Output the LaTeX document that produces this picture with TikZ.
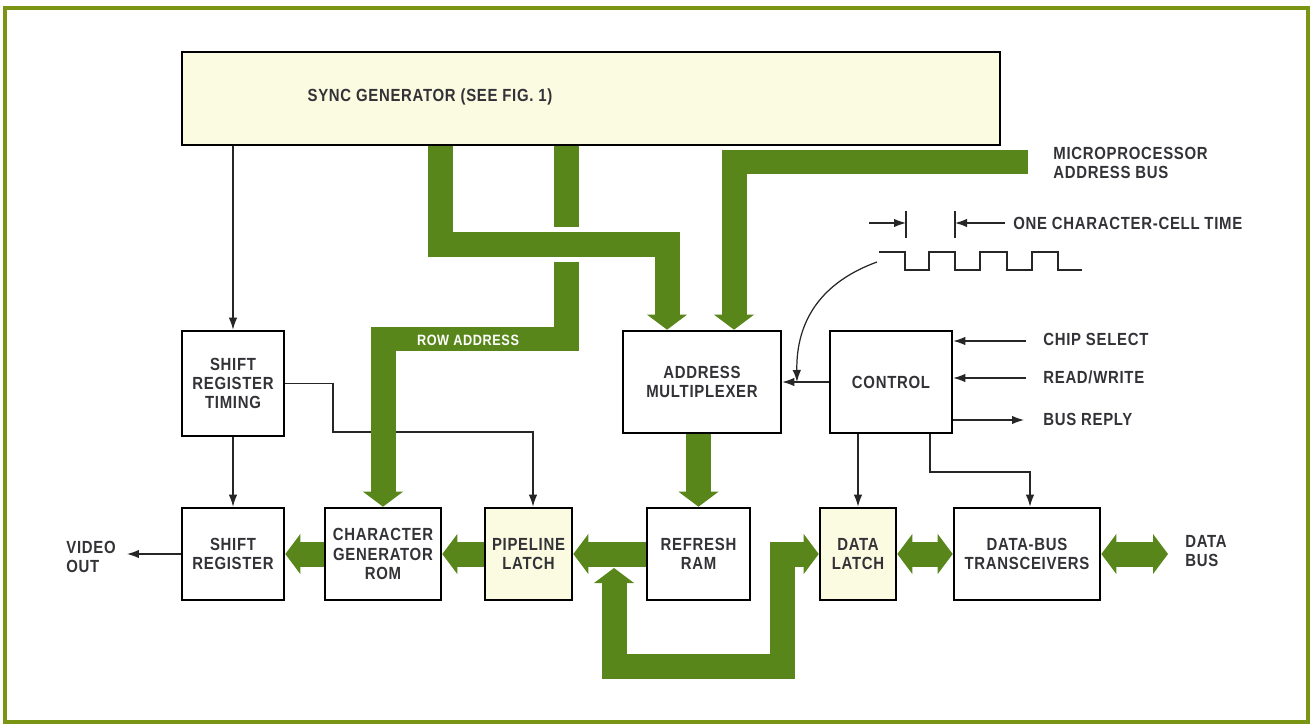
\documentclass[tikz,border=0pt]{standalone}
\usepackage{fontspec}
\setmainfont{Liberation Sans}[FakeStretch=0.85,LetterSpace=4]
\usetikzlibrary{arrows.meta}
\definecolor{busgreen}{RGB}{88,134,26}
\definecolor{framegreen}{RGB}{122,148,20}
\definecolor{cream}{RGB}{251,251,226}
\definecolor{ink}{RGB}{50,50,55}

\begin{document}
\begin{tikzpicture}[x=0.02cm,y=-0.02cm,font=\bfseries\fontsize{10}{11}\selectfont]
	 \tikzstyle{block}=[draw=black,line width=1.5pt,fill=white,text=ink,align=center,inner sep=0pt,minimum height=1.84cm]
	 \tikzstyle{latch}=[block,fill=cream]
	 \tikzstyle{wire}=[draw=black!85,line width=0.7pt,>={Latex[length=2.4mm,width=1.7mm]}]
	 \tikzstyle{bus}=[draw=busgreen,line width=0.5cm,>={Triangle[length=0.3cm,width=0.8cm,line width=0pt]}]
	 \tikzstyle{note}=[text=ink,align=left,anchor=west,inner sep=0pt]

	 \useasboundingbox (0,0) rectangle (1312,726);
	 \draw[framegreen,line width=0.08cm] (5,8) rectangle (1308,722);

	 \node[latch,minimum width=16.36cm,minimum height=1.86cm] (sync) at (591,98.5) {};
	 \node[text=ink] (synctext) at (430,97) {SYNC GENERATOR (SEE FIG. 1)};
	 \node[block,minimum width=2.04cm,minimum height=2.1cm] (srt) at (233,383.5) {SHIFT\\REGISTER\\TIMING};
	 \node[block,minimum width=2.04cm] (sr) at (233,554) {SHIFT\\REGISTER};
	 \node[block,minimum width=2.32cm] (cgr) at (383,554) {CHARACTER\\GENERATOR\\ROM};
	 \node[latch,minimum width=1.74cm] (pl) at (528.5,554) {PIPELINE\\LATCH};
	 \node[block,minimum width=2.06cm] (ram) at (698.5,554) {REFRESH\\RAM};
	 \node[latch,minimum width=1.52cm] (dl) at (858,554) {DATA\\LATCH};
	 \node[block,minimum width=2.92cm] (dbt) at (1027,554) {DATA-BUS\\TRANSCEIVERS};
	 \node[block,minimum width=3.16cm,minimum height=2.04cm] (mux) at (702,382) {ADDRESS\\MULTIPLEXER};
	 \node[block,minimum width=2.44cm,minimum height=2.04cm] (ctrl) at (891,382) {CONTROL};

	 \coordinate (vout) at (127,554);
	 \coordinate (clk) at (877,262);
	 \coordinate (tap) at (797,382);
	 \coordinate (cs) at (1026,341);
	 \coordinate (rw) at (1026,378);
	 \coordinate (br) at (1024,420);
	 \coordinate (upbus) at (1028,162);
	 \coordinate (databus) at (1168,554);

	 \draw[wire,->] (srt.north |- sync.south) -- (srt.north);
	 \draw[wire,->] (srt.south) -- (sr.north);
	 \draw[wire,->] (sr.west) -- (vout);
	 \draw[wire,->] (srt.east) -| (333,432) -| (pl.north -| 533,0);
	 \draw[wire,->] (ctrl.west) -- (mux.east);
	 \draw[wire,->] (clk) .. controls (822,282) and (796,320) .. (tap);
	 \draw[wire,->] (cs) -- (ctrl.east |- cs);
	 \draw[wire,->] (rw) -- (ctrl.east |- rw);
	 \draw[wire,->] (ctrl.east |- br) -- (br);
	 \draw[wire,->] (dl.north |- ctrl.south) -- (dl.north);
	 \draw[wire,->] (930,0 |- ctrl.south) |- (1030,472) -- (1030,0 |- dbt.north);

	 % clock waveform and its period marks
	 \draw[black!85,line width=1.3pt] (879,252) -- (905,252) -- (905,270) -- (929,270) -- (929,252)
		 -- (955,252) -- (955,270) -- (980,270) -- (980,252) -- (1007,252) -- (1007,270)
		 -- (1032,270) -- (1032,252) -- (1058,252) -- (1058,270) -- (1082,270);
	 \draw[wire] (906,211) -- (906,238) (955,211) -- (955,238);
	 \draw[wire,->] (869,223) -- (906,223);
	 \draw[wire,->] (1005,223) -- (955,223);

	 \draw[bus,->] (440,0 |- sync.south) |- (667,244.5) -- (667,0 |- mux.north);
	 \draw[bus] (566.5,0 |- sync.south) -- (566.5,227);
	 \draw[bus,->] (566.5,262) |- (cgr.north |- 0,339) -- (cgr.north);
	 \draw[bus,->] (upbus) -| (734,0 |- mux.north);
	 \draw[bus,->] (ram.north |- mux.south) -- (ram.north);
	 \draw[bus,->] (cgr.west) -- (sr.east);
	 \draw[bus,->] (pl.west) -- (cgr.east);
	 \draw[bus,->] (ram.west) -- (pl.east);
	 \draw[bus,<->] (614,568) |- (782,666) |- (dl.west);
	 \draw[bus,<->] (dl.east) -- (dbt.west);
	 \draw[bus,<->] (dbt.east) -- (databus);

	 \node[text=white,font=\bfseries\fontsize{8.5}{10}\selectfont] (rowaddr) at (468,340) {ROW ADDRESS};
	 \node[note] (voutlabel) at (66,557) {VIDEO\\OUT};
	 \node[note] (cslabel) at (1043,339) {CHIP SELECT};
	 \node[note] (rwlabel) at (1043,377) {READ/WRITE};
	 \node[note] (brlabel) at (1043,419) {BUS REPLY};
	 \node[note] (cclabel) at (1013,223) {ONE CHARACTER-CELL TIME};
	 \node[note] (mpulabel) at (1053,163) {MICROPROCESSOR\\ADDRESS BUS};
	 \node[note] (dblabel) at (1185,551) {DATA\\BUS};
 \end{tikzpicture}
\end{document}
